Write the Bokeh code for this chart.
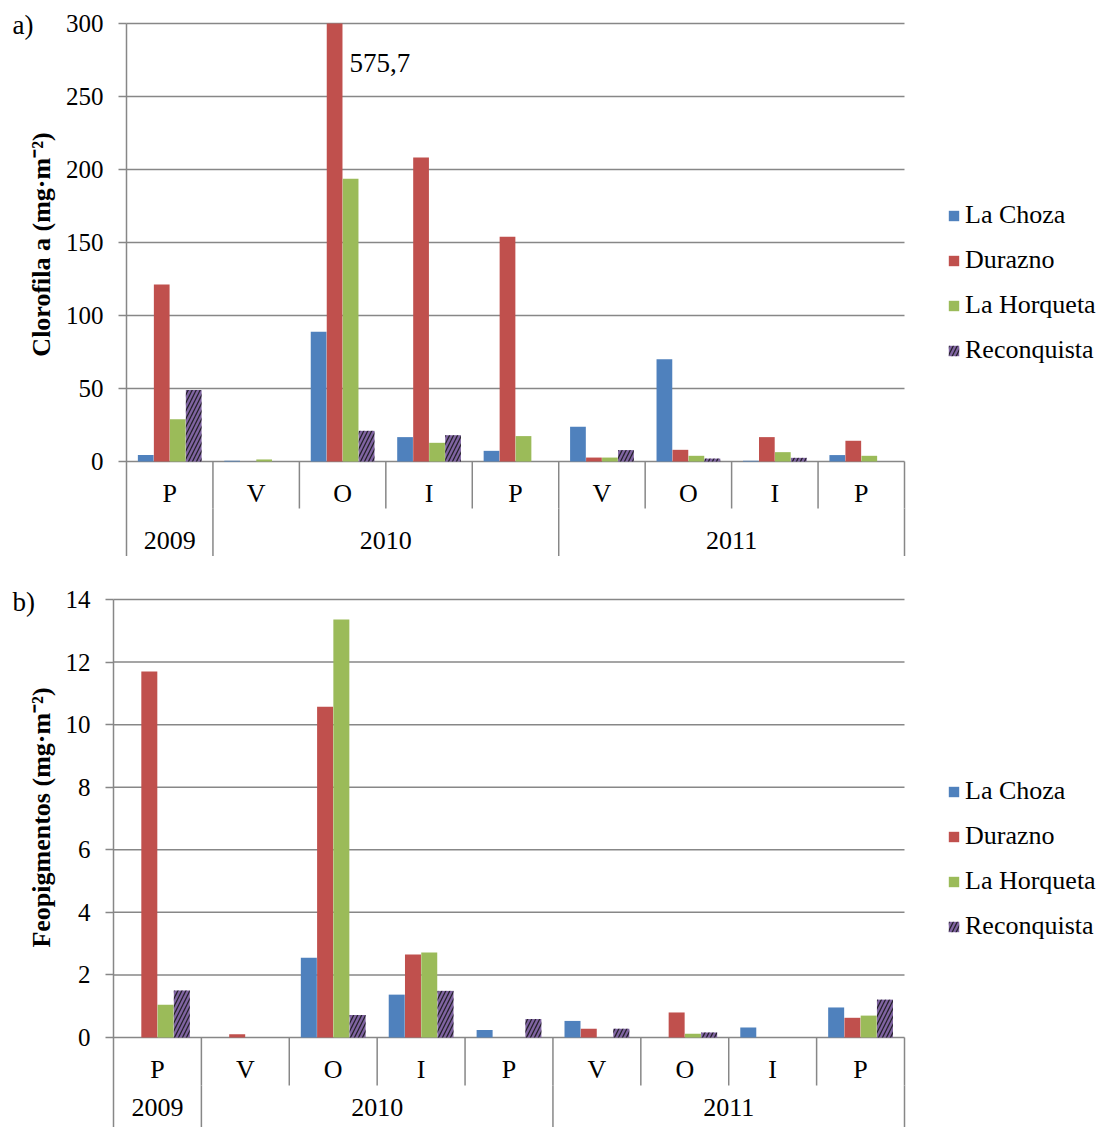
import math
import numpy as np
from bokeh.plotting import figure
from bokeh.models import Range1d, FixedTicker, Legend, LegendItem
from bokeh.layouts import column
from bokeh.embed import file_html
from bokeh.resources import INLINE
from bokeh.core.properties import value

# ---------------- data ----------------
seasons = ["P", "V", "O", "I", "P", "V", "O", "I", "P"]
years = ["2009", "2010", "2011"]
year_first = [0, 1, 5]   # first category index of each year
year_last = [0, 4, 8]    # last category index of each year
series = ["La Choza", "Durazno", "La Horqueta", "Reconquista"]

# a) Clorofila a (mg·m-2)
chl_la_choza = [4.4, 0.5, 88.8, 16.7, 7.3, 23.8, 70.1, 0.5, 4.4]
chl_durazno = [121.2, 0.0, 575.7, 208.3, 154.0, 2.7, 8.0, 16.7, 14.2]
chl_la_horqueta = [29.0, 1.4, 193.6, 12.8, 17.4, 2.7, 3.9, 6.4, 3.9]
chl_reconquista = [49.0, 0.0, 21.0, 18.0, 0.0, 7.8, 2.0, 2.5, 0.0]
chl_ticks = [0, 50, 100, 150, 200, 250, 300]

# b) Feopigmentos (mg·m-2)
feo_la_choza = [0.0, 0.0, 2.55, 1.37, 0.24, 0.53, 0.0, 0.32, 0.96]
feo_durazno = [11.7, 0.1, 10.57, 2.65, 0.0, 0.28, 0.8, 0.0, 0.63]
feo_la_horqueta = [1.05, 0.0, 13.36, 2.72, 0.0, 0.0, 0.12, 0.0, 0.7]
feo_reconquista = [1.5, 0.0, 0.72, 1.49, 0.59, 0.28, 0.16, 0.0, 1.21]
feo_ticks = [0, 2, 4, 6, 8, 10, 12, 14]

# ---------------- style ----------------
FONT = "Liberation Serif"
GRID = "#878787"
COLORS = ["#4F81BD", "#C0504D", "#9BBB59", "#8064A2"]
OFFSETS = [-0.2775, -0.0925, 0.0925, 0.2775]
BAR_W = 0.182
W = 1100


def make_panel(values, ticks, fig_top, fig_bottom, ax_x, right_x, ymax_px,
               zero_px, row_px, season_px, year_px, ylabel, ylabel_px,
               tag, tag_px, legend_bottom_px):
    """Pixel constants are page pixels; all marks are placed in data units."""
    n = len(seasons)
    ymax = ticks[-1]
    kx = (right_x - ax_x) / n               # px per category
    ky = (zero_px - ymax_px) / ymax          # px per unit

    def dx(px):
        return (px - ax_x) / kx

    def dy(py):
        return (zero_px - py) / ky

    H = fig_bottom - fig_top
    y0, y1 = dy(fig_bottom), dy(fig_top)
    p = figure(width=W, height=H,
               x_range=Range1d(dx(0), dx(W)), y_range=Range1d(y0, y1),
               x_axis_type=None, output_backend="svg", toolbar_location=None,
               min_border_left=0, min_border_right=0,
               min_border_top=0, min_border_bottom=0)
    p.outline_line_color = None
    p.background_fill_color = "white"
    p.border_fill_color = "white"
    p.grid.visible = False

    ax = p.yaxis[0]
    ax.fixed_location = 0
    ax.bounds = (y0, ymax)
    ax.ticker = FixedTicker(ticks=ticks)
    ax.axis_line_color = GRID
    ax.axis_line_width = 1.5
    ax.major_tick_line_color = GRID
    ax.major_tick_line_width = 1.5
    ax.major_tick_out = 8
    ax.major_tick_in = 0
    ax.minor_tick_out = 0
    ax.minor_tick_in = 0
    ax.major_label_text_font = FONT
    ax.major_label_text_font_size = "25px"
    ax.major_label_text_color = "black"
    ax.major_label_standoff = 15

    # horizontal gridlines, only over the category span
    p.segment(x0=[0] * len(ticks), y0=ticks, x1=[n] * len(ticks), y1=ticks,
              line_color=GRID, line_width=1.5)

    idx = np.arange(n)
    items = []
    for k, (name, vals) in enumerate(zip(series, values)):
        xs = idx + 0.5 + OFFSETS[k]
        tops = np.minimum(np.array(vals, dtype=float), ymax)  # clipped at axis max
        kw = dict(x=xs, top=tops, bottom=0, width=BAR_W,
                  fill_color=COLORS[k], line_color=None)
        if name == "Reconquista":
            kw.update(hatch_pattern="/", hatch_color="#141414", hatch_alpha=0.85,
                      hatch_scale=8, hatch_weight=1.3)
        r = p.vbar(**kw)
        items.append(LegendItem(label=name, renderers=[r]))

    # category table lines
    row_bottom = dy(row_px)
    sx = list(range(1, n + 1))
    p.segment(x0=sx, y0=[0] * n, x1=sx, y1=[row_bottom] * n,
              line_color=GRID, line_width=1.5)
    yx = [year_first[j] for j in range(1, len(years))] + [n]
    p.segment(x0=yx, y0=[row_bottom] * len(yx), x1=yx, y1=[y0] * len(yx),
              line_color=GRID, line_width=1.5)

    p.text(x=idx + 0.5, y=[dy(season_px)] * n, text=seasons,
           text_font=value(FONT), text_font_size="26px", text_color="black",
           text_align="center", text_baseline="middle")
    ycx = [(a + b + 1) / 2 for a, b in zip(year_first, year_last)]
    p.text(x=ycx, y=[dy(year_px)] * len(years), text=years,
           text_font=value(FONT), text_font_size="26px", text_color="black",
           text_align="center", text_baseline="middle")

    # axis title and panel tag
    p.text(x=[dx(ylabel_px[0])], y=[dy(ylabel_px[1])], text=[ylabel],
           angle=math.pi / 2, text_font=value(FONT), text_font_size="26px",
           text_font_style="bold", text_color="black",
           text_align="center", text_baseline="middle")
    p.text(x=[dx(tag_px[0])], y=[dy(tag_px[1])], text=[tag],
           text_font=value(FONT), text_font_size="27px", text_color="black",
           text_align="left", text_baseline="middle")

    legend = Legend(items=items, location=(947, fig_bottom - legend_bottom_px),
                    orientation="vertical",
                    glyph_width=13, glyph_height=13, label_standoff=5,
                    label_height=25, spacing=15, padding=0, margin=0,
                    border_line_color=None, background_fill_alpha=0,
                    label_text_font=FONT, label_text_font_size="26px",
                    label_text_color="black")
    p.add_layout(legend, "center")
    return p, dx, dy


# a) panel: page y 0..556, axis x=126, last boundary x=904, 300 at y=23, 0 at y=461
p1, dx1, dy1 = make_panel(
    [chl_la_choza, chl_durazno, chl_la_horqueta, chl_reconquista], chl_ticks,
    fig_top=0, fig_bottom=556, ax_x=126, right_x=904, ymax_px=23, zero_px=461,
    row_px=508, season_px=493, year_px=540,
    ylabel="Clorofila a (mg·m⁻²)", ylabel_px=(41, 244),
    tag="a)", tag_px=(12, 24), legend_bottom_px=365)

# value label for the bar that runs off the scale
big = chl_durazno[2]
p1.text(x=[dx1(349)], y=[dy1(62)], text=[f"{big:.1f}".replace(".", ",")],
        text_font=value(FONT), text_font_size="27px", text_color="black",
        text_align="left", text_baseline="middle")

# b) panel: page y 556..1127, axis x=113, 14 at y=599, 0 at y=1037
p2, dx2, dy2 = make_panel(
    [feo_la_choza, feo_durazno, feo_la_horqueta, feo_reconquista], feo_ticks,
    fig_top=556, fig_bottom=1127, ax_x=113, right_x=904, ymax_px=599, zero_px=1037,
    row_px=1085, season_px=1069, year_px=1107,
    ylabel="Feopigmentos (mg·m⁻²)", ylabel_px=(41, 817),
    tag="b)", tag_px=(12, 601), legend_bottom_px=941)

layout = column(p1, p2, spacing=0)
open("out.html", "w").write(file_html(layout, INLINE))
